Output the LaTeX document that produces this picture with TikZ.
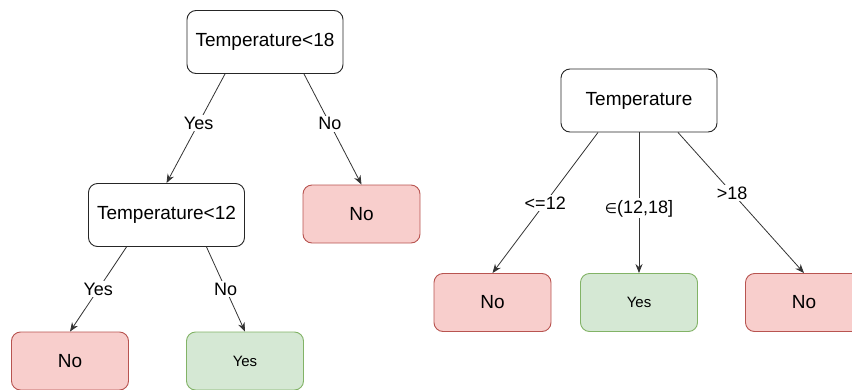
\documentclass[tikz,border=0pt]{standalone}
\usepackage{fontspec}
\setmainfont{Liberation Sans}
\newfontfamily\symbolfamily{DejaVu Sans}
\usetikzlibrary{arrows.meta}
\definecolor{nofill}{HTML}{F8CECC}
\definecolor{noline}{HTML}{B85450}
\definecolor{yesfill}{HTML}{D5E8D4}
\definecolor{yesline}{HTML}{82B366}
\definecolor{edgecol}{HTML}{333333}
\begin{document}
\begin{tikzpicture}[x=1pt,y=-1pt,
  box/.style={rounded corners=9pt, line width=0.9pt, inner sep=0pt, anchor=center},
  testbox/.style={box, draw=black!85, fill=white, minimum width=156pt, minimum height=63pt,
    font=\fontsize{19}{22}\selectfont},
  nobox/.style={box, draw=noline, fill=nofill, minimum width=117pt, minimum height=58pt,
    font=\fontsize{19}{22}\selectfont},
  yesbox/.style={box, draw=yesline, fill=yesfill, minimum width=117pt, minimum height=58pt,
    font=\fontsize{15}{18}\selectfont},
  branch/.style={draw=edgecol, line width=0.8pt, -{Stealth[length=9pt,width=7pt]}},
  lbl/.style={fill=white, inner sep=1.5pt, font=\fontsize{18}{21}\selectfont, text=black}
]
\useasboundingbox (0,0) rectangle (852,389);

% binary tree
\node[testbox] (r1) at (265,42) {Temperature<18};
\node[testbox] (t12) at (166.5,215) {Temperature<12};
\node[nobox] (n1) at (361.5,214) {No};
\node[nobox] (n2) at (70,361) {No};
\node[yesbox] (y1) at (245,361) {Yes};

\draw[branch] ([xshift=-40pt]r1.south) -- node[lbl, pos=0.45] {Yes} (t12.north);
\draw[branch] ([xshift=39pt]r1.south) -- node[lbl, pos=0.45] {No} (n1.north);
\draw[branch] ([xshift=-40pt]t12.south) -- node[lbl, pos=0.5] {Yes} (n2.north);
\draw[branch] ([xshift=40pt]t12.south) -- node[lbl, pos=0.5] {No} (y1.north);

% multiway split
\node[testbox] (r2) at (639,100.5) {Temperature};
\node[nobox] (m1) at (492.5,302.5) {No};
\node[yesbox] (m2) at (639,302.5) {Yes};
\node[nobox] (m3) at (804,302.5) {No};

\draw[branch] ([xshift=-41pt]r2.south) -- node[lbl, pos=0.5] {<=12} (m1.north);
\draw[branch] (r2.south) -- node[lbl, pos=0.54] {{\symbolfamily\fontsize{14}{16}\selectfont ∈}(12,18]} (m2.north);
\draw[branch] ([xshift=39pt]r2.south) -- node[lbl, pos=0.43] {>18} (m3.north);
\end{tikzpicture}
\end{document}
